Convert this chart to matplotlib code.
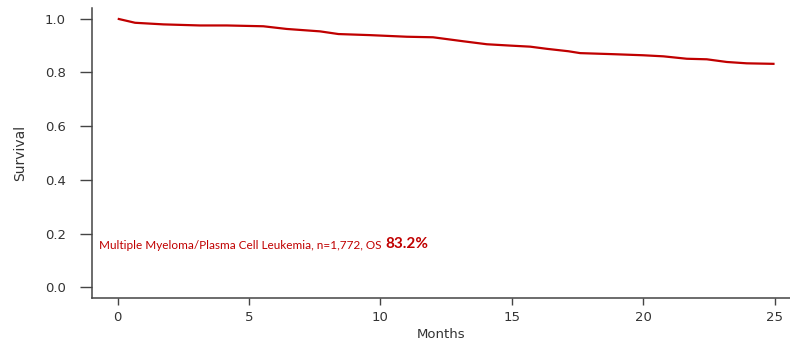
import matplotlib
matplotlib.use("Agg")
import matplotlib.pyplot as plt

# Kaplan-Meier curve
months = [0, 0.66, 1.74, 3.13, 4.15, 5.54, 6.43, 7.7, 8.4, 9.6, 11.0, 12.0,
          13.16, 14.05, 14.94, 15.7, 16.33, 17.15, 17.6, 18.87, 20.0, 20.77,
          21.66, 22.42, 23.18, 23.94, 25.0]
survival = [1.0, 0.985, 0.979, 0.975, 0.975, 0.972, 0.962, 0.953, 0.943,
            0.939, 0.933, 0.931, 0.916, 0.905, 0.900, 0.896, 0.888, 0.879,
            0.872, 0.868, 0.864, 0.860, 0.851, 0.849, 0.839, 0.834, 0.832]

x_ticks = [0, 5, 10, 15, 20, 25]
y_ticks = [0.0, 0.2, 0.4, 0.6, 0.8, 1.0]

label = "Multiple Myeloma/Plasma Cell Leukemia, n=1,772, OS"
os_value = "83.2%"

red = "#C00000"
axis_col = "#444444"

fig = plt.figure(figsize=(7.9, 3.45), dpi=100)
ax = fig.add_axes([0.1161, 0.1362, 0.884, 0.8406])

ax.plot(months, survival, color=red, linewidth=1.6, solid_capstyle="butt")

ax.set_xlim(-0.99, 25.59)
ax.set_ylim(-0.04, 1.04)
ax.set_xticks(x_ticks)
ax.set_yticks(y_ticks)
ax.set_xticklabels([str(v) for v in x_ticks])
ax.set_yticklabels([f"{v:.1f}" for v in y_ticks])

for side in ["top", "right"]:
    ax.spines[side].set_visible(False)
for side in ["left", "bottom"]:
    ax.spines[side].set_color(axis_col)
    ax.spines[side].set_linewidth(1.1)

ax.tick_params(axis="y", length=8.5, width=1.0, color=axis_col, pad=10,
               labelsize=9.5, labelcolor="#333333")
ax.tick_params(axis="x", length=5, width=1.0, color=axis_col, pad=4,
               labelsize=9.5, labelcolor="#333333")
for t in ax.get_xticklabels() + ax.get_yticklabels():
    t.set_fontfamily("DejaVu Sans")

ax.set_xlabel("Months", fontsize=9.5, color="#333333", labelpad=3,
              fontfamily="DejaVu Sans")
ax.set_ylabel("Survival", fontsize=10, color="#333333", labelpad=13,
              fontfamily=["Liberation Sans Narrow", "DejaVu Sans"])

t1 = ax.text(-0.71, 0.157, label, color=red, fontsize=8.5, fontfamily="Lato",
             ha="left", va="center")
ax.annotate(os_value, xy=(1, 0), xycoords=t1, xytext=(2.5, -0.5),
            textcoords="offset points", color=red, fontsize=11,
            fontweight="bold", fontfamily="Lato", ha="left", va="bottom")

fig.savefig("out.png", dpi=100)
